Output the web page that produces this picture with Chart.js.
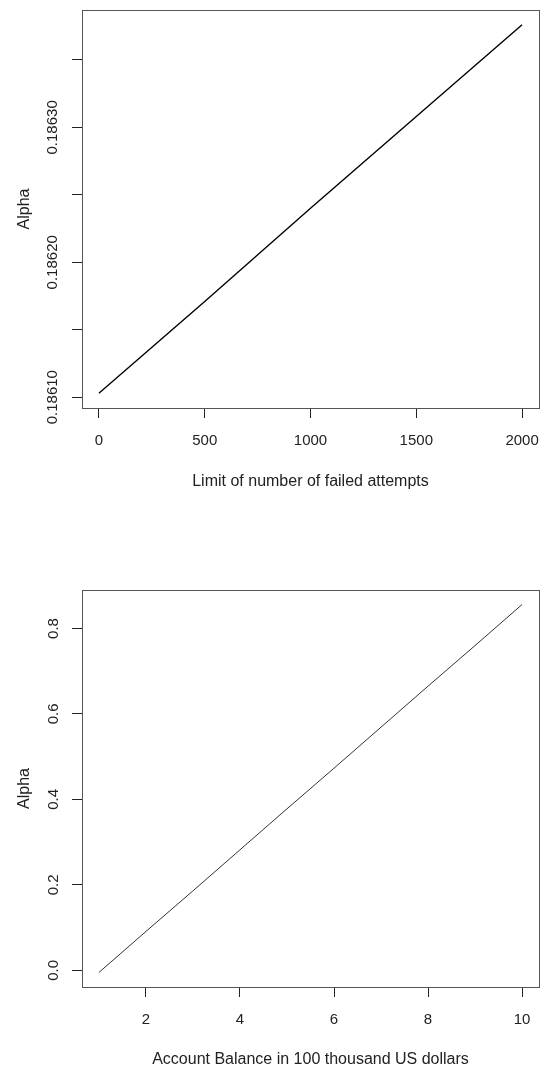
<!DOCTYPE html>
<html>
<head>
<meta charset="utf-8">
<script src="https://cdn.jsdelivr.net/npm/chart.js@4"></script>
<style>
  body { margin: 0; background: #fff; }
  .plot { position: absolute; left: 0; width: 542px; height: 533px; }
</style>
</head>
<body>
<div class="plot" style="top:0"><canvas id="attempts"></canvas></div>
<div class="plot" style="top:533px"><canvas id="balance"></canvas></div>
<script>
// top panel: alpha vs limit of failed attempts
const attemptLimits = [0, 500, 1000, 1500, 2000];
const attemptAlpha = [0.186103, 0.186171, 0.186240, 0.186308, 0.186376];
const attemptXTicks = [0, 500, 1000, 1500, 2000];
const attemptYTicks = [0.18610, 0.18615, 0.18620, 0.18625, 0.18630, 0.18635];
const attemptYLabels = ['0.18610', '', '0.18620', '', '0.18630', ''];

// bottom panel: alpha vs account balance
const balances = [1, 2, 3, 4, 5, 6, 7, 8, 9, 10];
const balanceAlpha = [-0.005, 0.091, 0.186, 0.282, 0.378, 0.473, 0.569, 0.665, 0.760, 0.856];
const balanceXTicks = [2, 4, 6, 8, 10];
const balanceYTicks = [0.0, 0.2, 0.4, 0.6, 0.8];
const balanceYLabels = ['0.0', '0.2', '0.4', '0.6', '0.8'];

const tickFont = { family: 'Liberation Sans, Arial, sans-serif', size: 15, lineHeight: 1 };
const titleFont = { family: 'Liberation Sans, Arial, sans-serif', size: 16, lineHeight: 1 };
const ink = '#222';

const boxPlugin = {
  id: 'box',
  afterDraw(chart) {
    const { ctx, chartArea: a } = chart;
    ctx.save();
    ctx.strokeStyle = '#555';
    ctx.lineWidth = 1;
    ctx.strokeRect(Math.round(a.left) + 0.5, Math.round(a.top) + 0.5,
      Math.round(a.right - a.left), Math.round(a.bottom - a.top));
    ctx.restore();
  },
};

function fixedTicks(values) {
  return scale => { scale.ticks = values.map(value => ({ value })); };
}

function drawPlot({ id, xs, ys, xRange, yRange, xTicks, yTicks, yLabels, xTitle,
                    top, xHeight, xTitlePad, yLabelPad, lineColor, lineWidth }) {
  new Chart(document.getElementById(id), {
    type: 'scatter',
    data: {
      datasets: [{
        data: xs.map((x, i) => ({ x, y: ys[i] })),
        showLine: true,
        borderColor: lineColor,
        borderWidth: lineWidth,
        pointRadius: 0,
        fill: false,
      }],
    },
    options: {
      responsive: true,
      maintainAspectRatio: false,
      animation: false,
      layout: { padding: { top, right: 3, left: 0, bottom: 0 } },
      plugins: { legend: { display: false }, tooltip: { enabled: false } },
      scales: {
        x: {
          type: 'linear',
          min: xRange[0],
          max: xRange[1],
          afterBuildTicks: fixedTicks(xTicks),
          afterFit: scale => {
            scale.height = xHeight;
            scale.paddingLeft = 0;
            scale.paddingRight = 0;
          },
          border: { display: false },
          grid: { drawOnChartArea: false, drawTicks: true, tickLength: 10, tickColor: ink },
          ticks: { font: tickFont, color: ink, padding: 15, maxRotation: 0, callback: v => String(v) },
          title: { display: true, text: xTitle, font: titleFont, color: ink, padding: { top: 0, bottom: xTitlePad } },
        },
        y: {
          type: 'linear',
          min: yRange[0],
          max: yRange[1],
          afterBuildTicks: fixedTicks(yTicks),
          afterFit: scale => {
            scale.width = 82;
            scale.paddingTop = 0;
            scale.paddingBottom = 0;
          },
          border: { display: false },
          grid: { drawOnChartArea: false, drawTicks: true, tickLength: 10, tickColor: ink },
          ticks: {
            font: tickFont, color: ink, padding: yLabelPad, minRotation: 90, maxRotation: 90,
            crossAlign: 'center',
            callback: (v, i) => yLabels[i],
          },
          title: { display: true, text: 'Alpha', font: titleFont, color: ink, padding: { top: 17, bottom: 0 } },
        },
      },
    },
    plugins: [boxPlugin],
  });
}

drawPlot({
  id: 'attempts',
  xs: attemptLimits,
  ys: attemptAlpha,
  xRange: [-80, 2080],
  yRange: [0.186092, 0.186387],
  xTicks: attemptXTicks,
  yTicks: attemptYTicks,
  yLabels: attemptYLabels,
  xTitle: 'Limit of number of failed attempts',
  top: 10,
  xHeight: 125,
  xTitlePad: 43,
  yLabelPad: -8,
  lineColor: '#000',
  lineWidth: 1.4,
});

drawPlot({
  id: 'balance',
  xs: balances,
  ys: balanceAlpha,
  xRange: [0.64, 10.36],
  yRange: [-0.039, 0.890],
  xTicks: balanceXTicks,
  yTicks: balanceYTicks,
  yLabels: balanceYLabels,
  xTitle: 'Account Balance in 100 thousand US dollars',
  top: 57,
  xHeight: 79,
  xTitlePad: -2,
  yLabelPad: 8,
  lineColor: '#333',
  lineWidth: 1,
});
</script>
</body>
</html>
